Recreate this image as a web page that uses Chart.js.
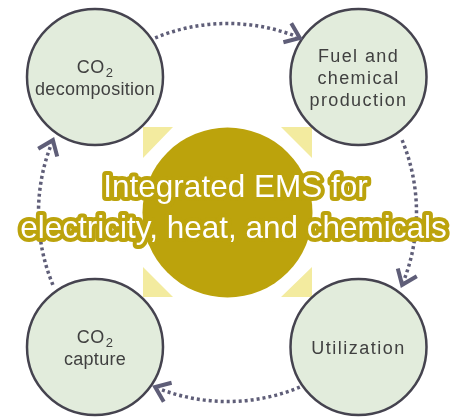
<!DOCTYPE html>
<html>
<head>
<meta charset="utf-8">
<script src="https://cdn.jsdelivr.net/npm/chart.js@4.4.1/dist/chart.umd.min.js"></script>
<style>
    html, body { margin: 0; padding: 0; background: #fff; }
    #wrap { width: 456px; height: 417px; }
</style>
</head>
<body>
<div id="wrap"><canvas id="grafico" width="456" height="417"></canvas></div>
<script>
// etapas do ciclo (circulos pequenos)
const stageNames  = [["CO2", "decomposition"], ["Fuel and", "chemical", "production"], ["Utilization"], ["CO2", "capture"]]
const stageX      = [95, 358.5, 358.5, 95]
const stageY      = [77, 77, 347, 347]
const stageRadius = [68, 68, 68, 68]

// circulo central
const hubLabel  = ["Integrated EMS for", "electricity, heat, and chemicals"]
const hubX      = [227.5]
const hubY      = [212.5]
const hubRadius = [85]

// triangulos dos cantos (vertices x / y)
const cornerX = [[143, 173, 143], [281, 312, 312], [143, 143, 173], [312, 312, 281]]
const cornerY = [[127, 127, 158], [127, 127, 158], [267, 297, 297], [267, 297, 297]]

// arcos pontilhados do anel (graus, sentido horario)
const ringRadius   = 189
const ringStartDeg = [-112.5, -22.5, 67.5, 157.5]
const ringEndDeg   = [-67.5, 22.5, 112.5, 202.5]

const toRad = (d) => d * Math.PI / 180

const desenhoCiclo = {
    id: 'desenhoCiclo',
    afterDatasetsDraw(chart, args, opts) {
        const ctx = chart.ctx
        const sx  = chart.scales.x
        const sy  = chart.scales.y
        const cx  = sx.getPixelForValue(hubX[0])
        const cy  = sy.getPixelForValue(hubY[0])
        const rr  = sx.getPixelForValue(hubX[0] + ringRadius) - cx

        ctx.save()
        ctx.strokeStyle = opts.ringColor

        // arcos + setas
        ringStartDeg.forEach((start, i) => {
            const a0 = toRad(start)
            const a1 = toRad(ringEndDeg[i])
            ctx.setLineDash([3, 3])
            ctx.lineCap   = 'butt'
            ctx.lineWidth = 3.5
            ctx.beginPath()
            ctx.arc(cx, cy, rr, a0, a1 - 0.02)
            ctx.stroke()

            const tx  = cx + rr * Math.cos(a1)
            const ty  = cy + rr * Math.sin(a1)
            const dir = a1 + Math.PI / 2
            const len = 17
            ctx.setLineDash([])
            ctx.lineCap   = 'butt'
            ctx.lineJoin  = 'miter'
            ctx.lineWidth = 4
            ctx.beginPath()
            ctx.moveTo(tx - len * Math.cos(dir - 0.65), ty - len * Math.sin(dir - 0.65))
            ctx.lineTo(tx, ty)
            ctx.lineTo(tx - len * Math.cos(dir + 0.65), ty - len * Math.sin(dir + 0.65))
            ctx.stroke()
        })

        // textos dos circulos
        ctx.fillStyle    = opts.labelColor
        ctx.textBaseline = 'alphabetic'
        stageNames.forEach((lines, i) => {
            const px = sx.getPixelForValue(stageX[i])
            const py = sy.getPixelForValue(stageY[i])
            const y0 = py - (lines.length - 1) * 11 + 7
            ctx.letterSpacing = opts.spacing[i] + 'px'
            lines.forEach((line, j) => {
                const ly = y0 + j * 22
                if (line === "CO2") {
                    ctx.letterSpacing = '0.5px'
                    ctx.font = '18px "Liberation Sans", Arial, sans-serif'
                    const wCO = ctx.measureText("CO").width
                    ctx.font = '13px "Liberation Sans", Arial, sans-serif'
                    const w2  = ctx.measureText("2").width
                    const left = px - (wCO + 1 + w2) / 2
                    ctx.textAlign = 'left'
                    ctx.font = '18px "Liberation Sans", Arial, sans-serif'
                    ctx.fillText("CO", left, ly)
                    ctx.font = '13px "Liberation Sans", Arial, sans-serif'
                    ctx.fillText("2", left + wCO + 1, ly + 4)
                    ctx.letterSpacing = opts.spacing[i] + 'px'
                } else {
                    ctx.textAlign = 'center'
                    ctx.font = '18px "Liberation Sans", Arial, sans-serif'
                    ctx.fillText(line, px, ly)
                }
            })
        })
        ctx.letterSpacing = '0px'

        // titulo central com contorno
        ctx.font      = '31.5px "Liberation Sans", Arial, sans-serif'
        ctx.textAlign = 'center'
        ctx.lineJoin  = 'round'
        ctx.lineWidth = 8
        ctx.strokeStyle = opts.hubColor
        ctx.fillStyle   = '#ffffff'
        const titleDx = [8, 6]
        const titleDy = [-15.5, 25.5]
        hubLabel.forEach((line, j) => {
            ctx.strokeText(line, cx + titleDx[j], cy + titleDy[j])
        })
        hubLabel.forEach((line, j) => {
            ctx.fillText(line, cx + titleDx[j], cy + titleDy[j])
        })
        ctx.restore()
    }
}

const triangulos = cornerX.map((xs, i) => ({
    type: 'line',
    data: xs.map((x, k) => ({ x: x, y: cornerY[i][k] })),
    fill: 'shape',
    backgroundColor: '#f3eb9f',
    borderWidth: 0,
    pointRadius: 0,
    order: 3
}))

const circulos = {
    type: 'bubble',
    data: stageX.map((x, i) => ({ x: x, y: stageY[i], r: stageRadius[i] })),
    backgroundColor: '#e2ecdc',
    borderColor: '#45434f',
    borderWidth: 2.5,
    clip: false,
    order: 2
}

const centro = {
    type: 'bubble',
    data: hubX.map((x, i) => ({ x: x, y: hubY[i], r: hubRadius[i] })),
    backgroundColor: '#bca30c',
    borderWidth: 0,
    clip: false,
    order: 1
}

new Chart(document.getElementById('grafico'), {
    type: 'scatter',
    data: { datasets: [centro, circulos, ...triangulos] },
    options: {
        responsive: false,
        devicePixelRatio: 1,
        animation: false,
        events: [],
        layout: { padding: 0, autoPadding: false },
        plugins: {
            legend: false,
            tooltip: { enabled: false },
            desenhoCiclo: { ringColor: '#5f5e78', labelColor: '#404040', hubColor: '#bca30c', spacing: [0.3, 1.4, 1.5, 0.3] }
        },
        scales: {
            x: { type: 'linear', min: 0, max: 456, display: false },
            y: { type: 'linear', min: 0, max: 417, reverse: true, display: false }
        }
    },
    plugins: [desenhoCiclo]
})
</script>
</body>
</html>
